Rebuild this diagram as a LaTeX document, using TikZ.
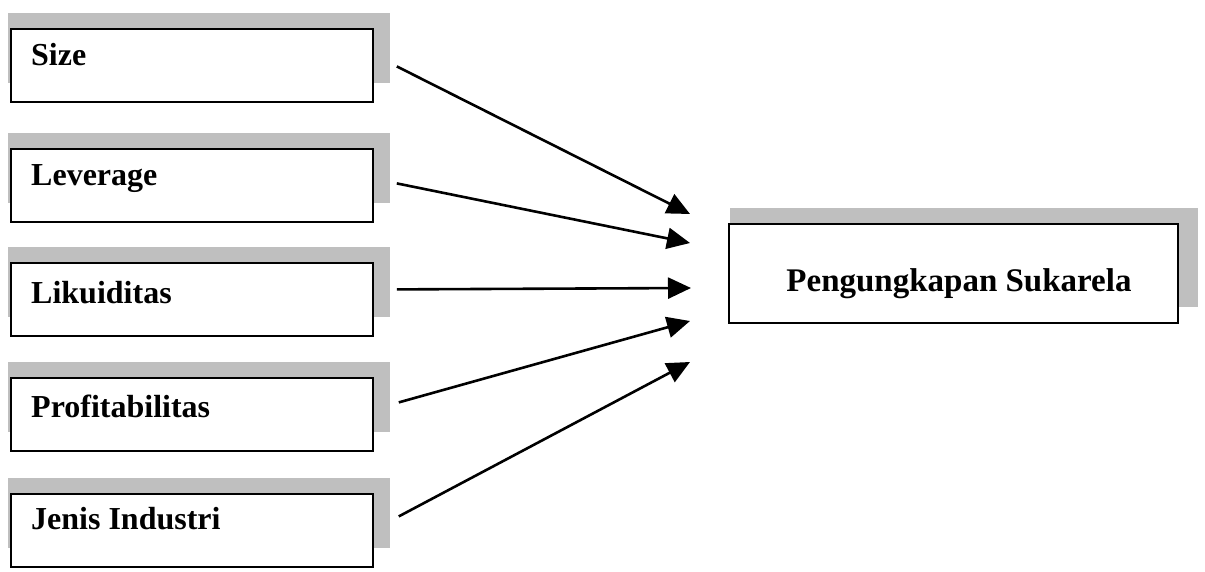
\documentclass[tikz,border=0pt]{standalone}
\usepackage{fontspec}
\setmainfont{Liberation Serif}
\usetikzlibrary{arrows.meta,backgrounds}
\begin{document}
\begin{tikzpicture}[x=1pt,y=-1pt,
  box/.style={draw=black, line width=1.8pt, fill=white, minimum width=362pt, minimum height=73pt, inner sep=0pt, anchor=north west},
  bigbox/.style={draw=black, line width=1.8pt, fill=white, minimum width=449pt, minimum height=99pt, inner sep=0pt, anchor=north west},
  lbl/.style={font=\fontsize{32}{38}\selectfont\bfseries, anchor=base west, inner sep=0pt},
  shadowfill/.style={fill=gray!50},
  arr/.style={line width=2.6pt, -{Triangle[length=23pt,width=21pt]}}]
\useasboundingbox (0,0) rectangle (1205,572);
% left boxes
\node[box] (size) at (10,28) {};
\node[lbl] (tsize) at (31,66) {Size};
\node[box] (lev) at (10,148) {};
\node[lbl] (tlev) at (31,186) {Leverage};
\node[box] (liq) at (10,262) {};
\node[lbl] (tliq) at (31,303) {Likuiditas};
\node[box] (prof) at (10,377) {};
\node[lbl] (tprof) at (31,417) {Profitabilitas};
\node[box] (jen) at (10,493) {};
\node[lbl] (tjen) at (31,529) {Jenis Industri};
% right box
\node[bigbox] (pen) at (728,223) {};
\node[font=\fontsize{33}{38}\selectfont\bfseries, anchor=base, inner sep=0pt] (tpen) at (959,291) {Pengungkapan Sukarela};
% shadows
\begin{scope}[on background layer]
  \foreach \n in {size,lev,liq,prof,jen}
    \fill[shadowfill] ([shift={(-2,-15)}]\n.north west) rectangle ([shift={(16,-20)}]\n.south east);
  \fill[shadowfill] ([shift={(2,-15)}]pen.north west) rectangle ([shift={(19,-17)}]pen.south east);
\end{scope}
% arrow tips
\coordinate (t1) at (690,214);
\coordinate (t2) at (690,243);
\coordinate (t3) at (691,288);
\coordinate (t4) at (690,321);
\coordinate (t5) at (690,362);
\draw[arr] ([shift={(23,1)}]size.east) -- (t1);
\draw[arr] ([shift={(23,-2)}]lev.east) -- (t2);
\draw[arr] ([shift={(23,-10)}]liq.east) -- (t3);
\draw[arr] ([shift={(25,-12)}]prof.east) -- (t4);
\draw[arr] ([shift={(25,-14)}]jen.east) -- (t5);
\end{tikzpicture}
\end{document}
